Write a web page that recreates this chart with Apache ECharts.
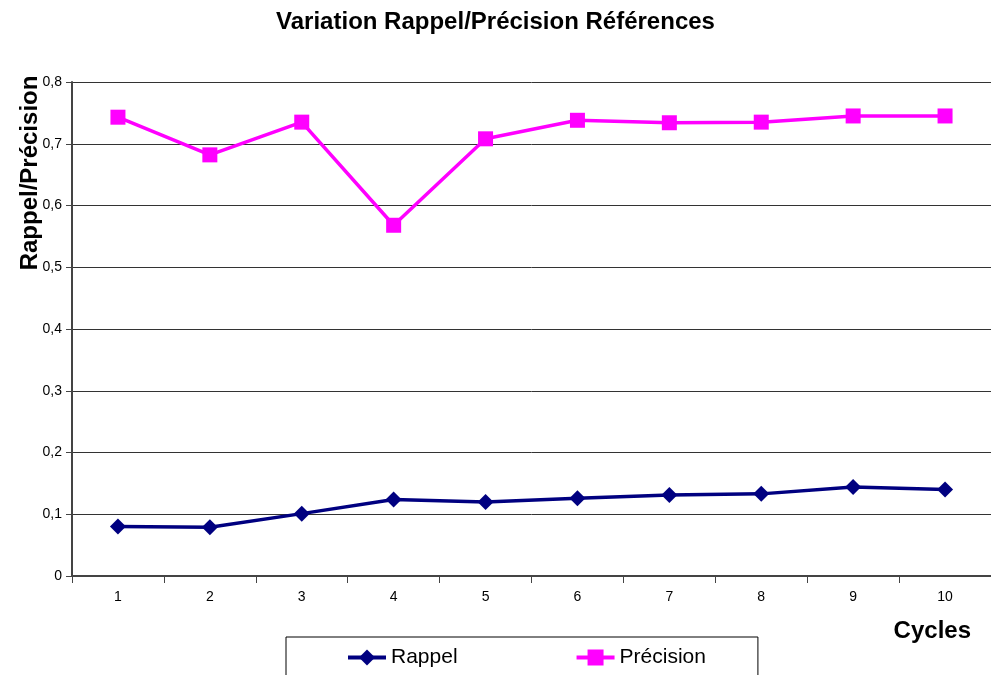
<!DOCTYPE html>
<html>
<head>
<meta charset="utf-8">
<script src="https://cdn.jsdelivr.net/npm/echarts@6/dist/echarts.min.js"></script>
<style>
  html, body { margin: 0; padding: 0; background: #fff; }
  #chart { width: 991px; height: 675px; }
</style>
</head>
<body>
<div id="chart"></div>
<script>
// données
const cycles = ['1', '2', '3', '4', '5', '6', '7', '8', '9', '10'];
const rappel = [0.080, 0.079, 0.101, 0.124, 0.120, 0.126, 0.131, 0.133, 0.144, 0.140];
const precision = [0.743, 0.682, 0.735, 0.568, 0.708, 0.738, 0.734, 0.735, 0.745, 0.745];

const font = 'Liberation Sans, Arial, Helvetica, sans-serif';

var myChart = echarts.init(document.getElementById('chart'));

var option = {
  animation: false,
  textStyle: { fontFamily: font },
  title: {
    text: 'Variation Rappel/Précision Références',
    left: 'center',
    top: 5,
    textStyle: { fontSize: 24, fontWeight: 'bold', color: '#000', fontFamily: font }
  },
  // titre de l'axe vertical, placé en haut comme dans l'original
  graphic: [{
    type: 'text',
    x: 30,
    y: 173,
    rotation: Math.PI / 2,
    style: {
      text: 'Rappel/Précision',
      font: 'bold 24px ' + font,
      fill: '#000',
      textAlign: 'center',
      textVerticalAlign: 'middle'
    }
  }],
  grid: { left: 72, right: -1, top: 82, bottom: 99, containLabel: false },
  legend: {
    left: 286,
    top: 637,
    padding: [10, 52, 14, 60],
    itemGap: 117,
    itemWidth: 38,
    itemHeight: 20,
    borderColor: '#000',
    borderWidth: 1,
    lineStyle: { width: 4 },
    textStyle: { fontSize: 21, color: '#000', fontFamily: font },
    data: ['Rappel', 'Précision']
  },
  xAxis: {
    type: 'category',
    data: cycles,
    boundaryGap: true,
    name: 'Cycles',
    nameLocation: 'end',
    nameGap: 0,
    nameTextStyle: {
      fontSize: 24, fontWeight: 'bold', color: '#000',
      align: 'right', verticalAlign: 'top', padding: [43, 20, 0, 0]
    },
    axisLine: { lineStyle: { color: '#444', width: 2 } },
    axisTick: { show: true, length: 7, lineStyle: { color: '#444', width: 1 } },
    axisLabel: { fontSize: 14, color: '#000', margin: 14 },
    splitLine: { show: false }
  },
  yAxis: {
    type: 'value',
    min: 0,
    max: 0.8,
    interval: 0.1,
    axisLine: { show: true, lineStyle: { color: '#444', width: 2 } },
    axisTick: { show: true, length: 6, lineStyle: { color: '#444', width: 1 } },
    axisLabel: {
      fontSize: 14, color: '#000', margin: 10,
      formatter: function (v) { return v === 0 ? '0' : v.toFixed(1).replace('.', ','); }
    },
    splitLine: { show: true, lineStyle: { color: '#333', width: 1 } }
  },
  series: [
    {
      name: 'Rappel',
      type: 'line',
      data: rappel,
      symbol: 'diamond',
      symbolSize: 16,
      itemStyle: { color: '#000080' },
      lineStyle: { color: '#000080', width: 3.5 }
    },
    {
      name: 'Précision',
      type: 'line',
      data: precision,
      symbol: 'rect',
      symbolSize: 15,
      itemStyle: { color: '#ff00ff' },
      lineStyle: { color: '#ff00ff', width: 3.5 }
    }
  ]
};

myChart.setOption(option);
</script>
</body>
</html>
